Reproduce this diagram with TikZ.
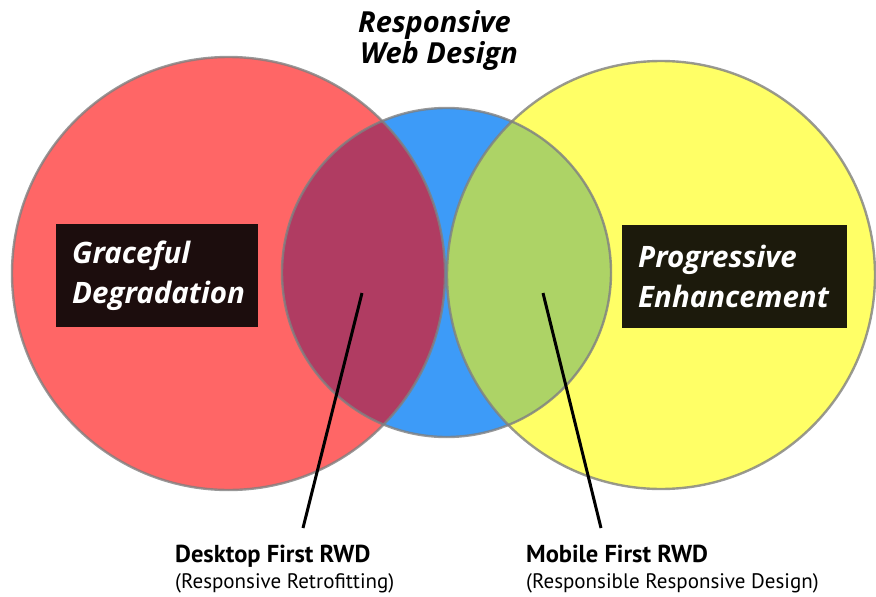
\documentclass[tikz,border=0pt]{standalone}
\usepackage{fontspec}
\newfontfamily\osans{Open Sans}
\newfontfamily\ptsans{PT Sans}
\definecolor{cred}{HTML}{FF6666}
\definecolor{cblue}{HTML}{3D9BF8}
\definecolor{cyel}{HTML}{FFFF66}
\definecolor{cpurp}{HTML}{B03C62}
\definecolor{cgreen}{HTML}{ADD366}
\definecolor{boxdark}{HTML}{1C0D0D}
\definecolor{boxdarkb}{HTML}{1C1A0C}
\begin{document}
\begin{tikzpicture}[x=1pt,y=-1pt,
  ring/.style={draw=black!50, draw opacity=0.8, line width=2.4pt},
  labelbox/.style={anchor=north west, inner xsep=16pt, inner ysep=0pt, minimum height=103pt,
     align=left, text=white, font=\osans\bfseries\itshape\fontsize{29.5}{40}\selectfont},
  title/.style={anchor=base west, inner sep=0pt, font=\osans\bfseries\itshape\fontsize{29}{31}\selectfont},
  headlbl/.style={anchor=base west, inner sep=0pt, font=\ptsans\bfseries\fontsize{24.5}{26}\selectfont},
  sublbl/.style={anchor=base west, inner sep=0pt, font=\ptsans\fontsize{21}{23}\selectfont},
  pointer/.style={line width=3pt, black}]
\useasboundingbox (0,0) rectangle (876,597);
\fill[white] (0,0) rectangle (876,597);
% circles
\fill[cred] (228.5,273.5) circle (216.5);
\fill[cyel] (661,275) circle (214);
\fill[cblue] (446.5,272.5) circle (164.5);
\begin{scope}
  \clip (228.5,273.5) circle (216.5);
  \fill[cpurp] (446.5,272.5) circle (164.5);
\end{scope}
\begin{scope}
  \clip (661,275) circle (214);
  \fill[cgreen] (446.5,272.5) circle (164.5);
\end{scope}
\draw[ring] (228.5,273.5) circle (216.5);
\draw[ring] (661,275) circle (214);
\draw[ring] (446.5,272.5) circle (164.5);
% title
\node[title] (t1) at (358,32) {Responsive};
\node[title] (t2) at (360,63) {Web Design};
% boxes
\node[labelbox, fill=boxdark, text width=170pt] (gd) at (56,224) {Graceful\\Degradation};
\node[labelbox, fill=boxdarkb, text width=193pt] (pe) at (622,225) {Progressive\\Enhancement};
% bottom labels
\node[headlbl] (dfh) at (175,562) {Desktop First RWD};
\node[sublbl] (dfs) at (175,588) {(Responsive Retrofitting)};
\node[headlbl] (mfh) at (526,562) {Mobile First RWD};
\node[sublbl] (mfs) at (526,588) {(Responsible Responsive Design)};
% pointers
\coordinate (ds) at (362,293);
\coordinate (de) at (303,528);
\coordinate (ms) at (543,293);
\coordinate (me) at (601,528);
\draw[pointer] (ds) -- (de);
\draw[pointer] (ms) -- (me);
\end{tikzpicture}
\end{document}
